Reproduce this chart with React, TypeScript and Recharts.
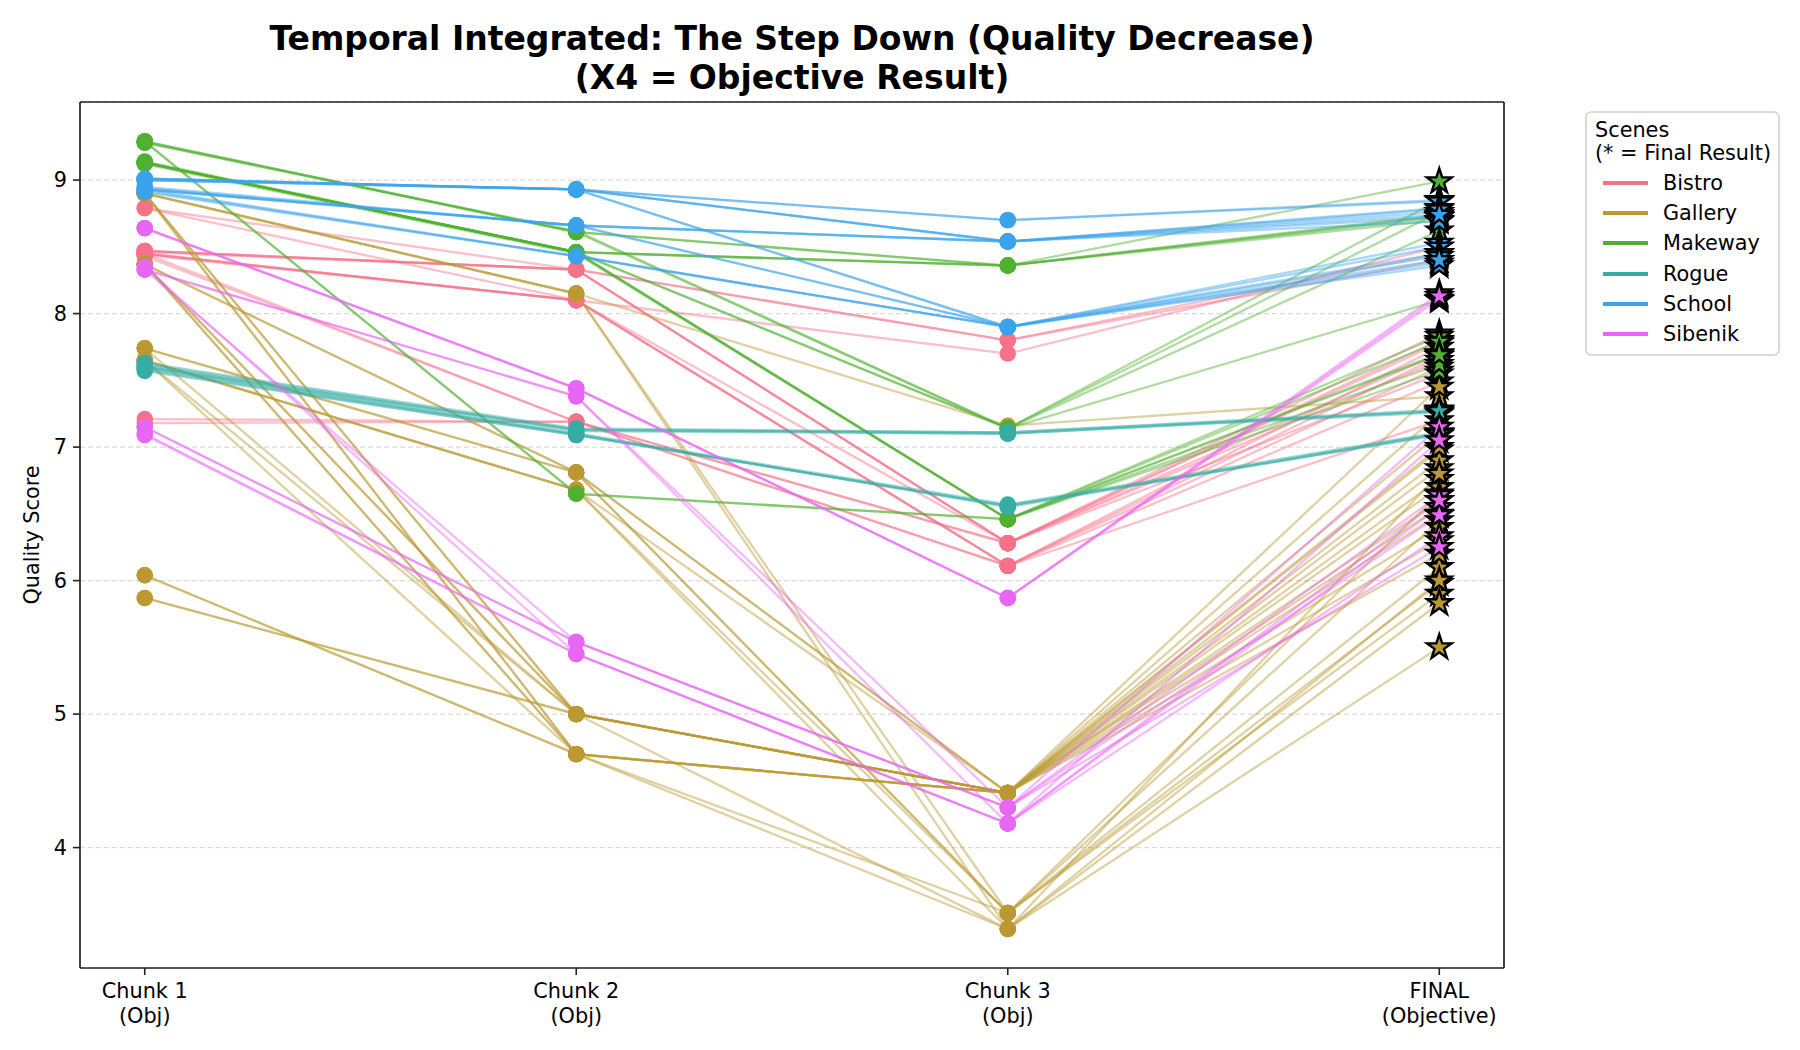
import React from 'react';
import { LineChart, Line, XAxis, YAxis, CartesianGrid, ReferenceLine } from 'recharts';

// x positions: the three chunks and the final objective result
const tickTop = ['Chunk 1', 'Chunk 2', 'Chunk 3', 'FINAL'];
const tickBottom = ['(Obj)', '(Obj)', '(Obj)', '(Objective)'];
const yTicks = [4, 5, 6, 7, 8, 9];

const scenes = ['Bistro', 'Gallery', 'Makeway', 'Rogue', 'School', 'Sibenik'];
const sceneColors = ['#f77189', '#bb9832', '#50b131', '#36ada4', '#3ba3ec', '#e866f4'];

// each run: [chunk1, chunk2, chunk3, final]
const bistroRuns = [
  [8.79, 8.33, 7.80, 8.45],
  [8.47, 8.33, 7.80, 8.40],
  [8.47, 8.33, 6.28, 7.85],
  [8.46, 8.33, 6.28, 7.80],
  [8.47, 8.33, 6.28, 7.78],
  [8.45, 8.10, 7.70, 8.50],
  [8.45, 8.10, 6.11, 7.75],
  [8.44, 8.10, 6.11, 7.60],
  [8.45, 8.10, 6.11, 7.68],
  [8.79, 8.10, 6.28, 7.70],
  [8.45, 7.19, 6.11, 7.49],
  [8.43, 7.19, 6.28, 7.55],
  [7.21, 7.19, 6.11, 7.20],
  [7.18, 7.19, 6.28, 7.65],
];

const galleryRuns = [
  [8.90, 8.15, 7.16, 7.38],
  [8.90, 8.15, 3.51, 6.10],
  [8.90, 8.15, 3.39, 5.50],
  [8.90, 5.00, 4.41, 6.98],
  [8.90, 5.00, 4.41, 7.25],
  [8.90, 4.70, 4.41, 6.84],
  [8.90, 4.70, 4.41, 6.20],
  [8.37, 6.81, 4.41, 6.76],
  [8.37, 6.81, 3.51, 5.98],
  [8.37, 5.00, 4.41, 7.10],
  [8.37, 5.00, 4.41, 6.55],
  [8.37, 4.70, 4.41, 6.60],
  [8.37, 4.70, 3.51, 6.45],
  [7.74, 6.81, 4.41, 7.45],
  [7.74, 6.81, 3.51, 5.90],
  [7.74, 5.00, 4.41, 6.40],
  [7.65, 6.68, 4.41, 6.90],
  [7.65, 6.68, 3.39, 5.83],
  [7.65, 6.68, 3.51, 6.65],
  [7.65, 5.00, 4.41, 7.00],
  [7.65, 4.70, 4.41, 6.70],
  [6.04, 4.70, 4.41, 6.30],
  [6.04, 4.70, 3.39, 6.00],
  [5.87, 5.00, 4.41, 6.50],
  [5.87, 5.00, 3.39, 6.80],
];

const makewayRuns = [
  [9.29, 8.61, 8.36, 8.99],
  [9.28, 8.61, 8.36, 8.72],
  [9.29, 8.61, 7.14, 8.85],
  [9.28, 8.62, 7.14, 8.62],
  [9.29, 6.65, 6.46, 7.57],
  [9.29, 6.65, 6.46, 7.62],
  [9.13, 8.46, 8.36, 8.74],
  [9.13, 8.46, 8.36, 8.73],
  [9.13, 8.46, 8.36, 8.70],
  [9.13, 8.46, 7.14, 8.76],
  [9.13, 8.46, 7.14, 8.10],
  [9.13, 8.46, 6.46, 7.83],
  [9.12, 8.45, 6.46, 7.79],
  [9.13, 8.46, 6.46, 7.70],
  [9.14, 8.46, 6.46, 7.69],
];

const rogueRuns = [
  [7.63, 7.14, 7.11, 7.28],
  [7.62, 7.13, 7.10, 7.27],
  [7.61, 7.12, 7.10, 7.26],
  [7.60, 7.13, 7.11, 7.27],
  [7.59, 7.10, 6.57, 7.11],
  [7.58, 7.09, 6.56, 7.10],
  [7.57, 7.09, 6.56, 7.09],
  [7.60, 7.10, 6.55, 7.10],
];

const schoolRuns = [
  [9.01, 8.93, 8.70, 8.85],
  [9.00, 8.93, 8.70, 8.84],
  [9.01, 8.93, 8.54, 8.79],
  [9.01, 8.93, 8.54, 8.76],
  [9.00, 8.93, 8.54, 8.78],
  [9.01, 8.93, 7.90, 8.53],
  [9.00, 8.93, 7.90, 8.50],
  [8.93, 8.66, 8.54, 8.72],
  [8.93, 8.66, 8.54, 8.69],
  [8.94, 8.66, 8.54, 8.74],
  [8.93, 8.66, 7.90, 8.45],
  [8.95, 8.66, 7.90, 8.43],
  [8.93, 8.43, 7.90, 8.38],
  [8.91, 8.43, 7.90, 8.36],
  [8.92, 8.43, 7.90, 8.40],
];

const sibenikRuns = [
  [8.64, 7.44, 5.87, 8.15],
  [8.64, 7.44, 5.87, 8.11],
  [8.64, 7.44, 5.87, 8.13],
  [8.33, 7.38, 4.30, 7.15],
  [8.33, 7.38, 4.18, 7.05],
  [8.33, 5.54, 4.30, 6.64],
  [8.35, 5.45, 4.18, 6.55],
  [7.15, 5.54, 4.30, 6.49],
  [7.09, 5.45, 4.18, 6.33],
  [7.15, 5.54, 4.30, 6.25],
  [7.10, 5.45, 4.18, 6.60],
];

const sceneRuns = [bistroRuns, galleryRuns, makewayRuns, rogueRuns, schoolRuns, sibenikRuns];

// flatten into one list of series
const series = sceneRuns.flatMap((runs, s) =>
  runs.map((vals, k) => ({ key: `s${s}_${k}`, color: sceneColors[s], vals }))
);

const chartData = tickTop.map((_, i) => {
  const row: Record<string, number> = { x: i };
  series.forEach((sr) => {
    row[sr.key] = sr.vals[i];
  });
  return row;
});

const W = 1800;
const H = 1050;
const PLOT_LEFT = 80;
const PLOT_RIGHT = 1504;
const PLOT_TOP = 102;
const PLOT_BOTTOM = 968;
const FONT = '"DejaVu Sans", sans-serif';

function starPath(cx: number, cy: number, R: number, r: number) {
  let d = '';
  for (let i = 0; i < 10; i++) {
    const a = -Math.PI / 2 + (i * Math.PI) / 5;
    const rad = i % 2 === 0 ? R : r;
    d += (i === 0 ? 'M' : 'L') + (cx + rad * Math.cos(a)).toFixed(2) + ',' + (cy + rad * Math.sin(a)).toFixed(2);
  }
  return d + 'Z';
}

const makeDot = (color: string, key: string) => (props: any) => {
  const { cx, cy, index } = props;
  if (cx == null || cy == null) return <g key={`${key}-${index}`} />;
  if (index === 3) {
    return (
      <path
        key={`${key}-${index}`}
        d={starPath(cx, cy, 13, 5)}
        fill={color}
        stroke="#000"
        strokeWidth={2.4}
        strokeLinejoin="miter"
      />
    );
  }
  return <circle key={`${key}-${index}`} cx={cx} cy={cy} r={8.2} fill={color} />;
};

const XTick = (props: any) => {
  const { x, payload } = props;
  const i = payload.value;
  return (
    <g>
      <text x={x} y={PLOT_BOTTOM + 30} textAnchor="middle" fontSize={20.8} fill="#000" fontFamily={FONT}>
        {tickTop[i]}
      </text>
      <text x={x} y={PLOT_BOTTOM + 55} textAnchor="middle" fontSize={20.8} fill="#000" fontFamily={FONT}>
        {tickBottom[i]}
      </text>
    </g>
  );
};

const legendRows = [183, 213, 243, 274, 304, 334];

export default function App() {
  return (
    <div style={{ position: 'absolute', left: 0, top: 0, width: W, height: H, background: '#fff' }}>
      <LineChart
        width={W}
        height={H}
        data={chartData}
        margin={{ top: PLOT_TOP, right: W - PLOT_RIGHT, bottom: 0, left: 0 }}
      >
        <CartesianGrid vertical={false} stroke="#dadada" strokeWidth={1.4} strokeDasharray="5 3" />
        <XAxis
          dataKey="x"
          type="number"
          domain={[-0.15, 3.15]}
          ticks={[0, 1, 2, 3]}
          interval={0}
          allowDataOverflow
          height={H - PLOT_BOTTOM}
          tick={<XTick />}
          tickSize={7}
          tickLine={{ stroke: '#222', strokeWidth: 1.6 }}
          axisLine={{ stroke: '#222', strokeWidth: 1.7 }}
        />
        <YAxis
          type="number"
          domain={[3.098, 9.585]}
          ticks={yTicks}
          interval={0}
          allowDataOverflow
          width={PLOT_LEFT}
          tickSize={7}
          tickMargin={6}
          tick={{ fontSize: 20.8, fill: '#000', fontFamily: FONT }}
          tickLine={{ stroke: '#222', strokeWidth: 1.6 }}
          axisLine={{ stroke: '#222', strokeWidth: 1.7 }}
        />
        <ReferenceLine y={9.585} stroke="#222" strokeWidth={1.7} ifOverflow="visible" />
        <ReferenceLine x={3.15} stroke="#222" strokeWidth={1.7} ifOverflow="visible" />
        {series.map((sr) => (
          <Line
            key={sr.key}
            dataKey={sr.key}
            type="linear"
            stroke={sr.color}
            strokeOpacity={0.45}
            strokeWidth={2.3}
            dot={false}
            activeDot={false}
            legendType="none"
            isAnimationActive={false}
          />
        ))}
        {series.map((sr) => (
          <Line
            key={`m_${sr.key}`}
            dataKey={sr.key}
            type="linear"
            stroke="none"
            strokeOpacity={0}
            dot={makeDot(sr.color, sr.key)}
            activeDot={false}
            legendType="none"
            isAnimationActive={false}
          />
        ))}
      </LineChart>

      <svg
        width={W}
        height={H}
        style={{ position: 'absolute', left: 0, top: 0, pointerEvents: 'none' }}
        fontFamily={FONT}
      >
        <text x={(PLOT_LEFT + PLOT_RIGHT) / 2} y={50} textAnchor="middle" fontSize={33} fontWeight="bold" fill="#000">
          Temporal Integrated: The Step Down (Quality Decrease)
        </text>
        <text x={(PLOT_LEFT + PLOT_RIGHT) / 2} y={89} textAnchor="middle" fontSize={33} fontWeight="bold" fill="#000">
          (X4 = Objective Result)
        </text>
        <text
          x={0}
          y={0}
          transform={`translate(39, ${(PLOT_TOP + PLOT_BOTTOM) / 2}) rotate(-90)`}
          textAnchor="middle"
          fontSize={20.8}
          fill="#000"
        >
          Quality Score
        </text>

        <rect x={1586} y={112} width={193} height={243} rx={5} fill="#fff" stroke="#d0d0d0" strokeWidth={1.6} />
        <text x={1595} y={137} fontSize={20.8} fill="#000">Scenes</text>
        <text x={1595} y={160} fontSize={20.8} fill="#000">(* = Final Result)</text>
        {scenes.map((name, i) => (
          <g key={name}>
            <line x1={1603} x2={1648} y1={legendRows[i]} y2={legendRows[i]} stroke={sceneColors[i]} strokeWidth={4} />
            <text x={1663} y={legendRows[i] + 7} fontSize={20.8} fill="#000">
              {name}
            </text>
          </g>
        ))}
      </svg>
    </div>
  );
}
